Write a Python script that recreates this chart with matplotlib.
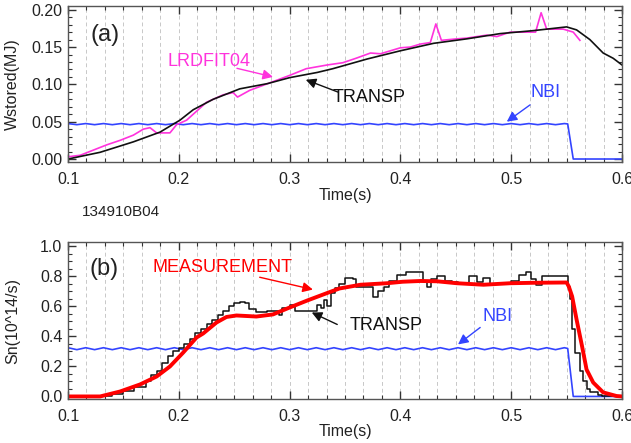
import numpy as np
import matplotlib
matplotlib.use("Agg")
import matplotlib.pyplot as plt
from matplotlib.ticker import MultipleLocator, FormatStrFormatter

plt.rcParams["font.family"] = ["Liberation Sans", "DejaVu Sans"]

# ---- panel (a): stored energy ----
transp_w_t = [0.100, 0.129, 0.159, 0.183, 0.201, 0.213, 0.231, 0.255, 0.280, 0.300,
              0.325, 0.339, 0.370, 0.400, 0.430, 0.460, 0.490, 0.520, 0.550, 0.559,
              0.571, 0.583, 0.592, 0.600]
transp_w = [0.000, 0.009, 0.023, 0.036, 0.052, 0.066, 0.080, 0.094, 0.101, 0.109,
            0.116, 0.121, 0.134, 0.145, 0.155, 0.161, 0.168, 0.172, 0.177, 0.173,
            0.160, 0.142, 0.135, 0.126]

lrdfit_t = [0.100, 0.111, 0.123, 0.135, 0.147, 0.159, 0.168, 0.174, 0.180, 0.192,
            0.198, 0.207, 0.216, 0.225, 0.240, 0.249, 0.253, 0.264, 0.282, 0.300,
            0.315, 0.334, 0.348, 0.360, 0.373, 0.382, 0.400, 0.409, 0.418, 0.427,
            0.432, 0.437, 0.451, 0.460, 0.478, 0.487, 0.499, 0.514, 0.522, 0.527,
            0.532, 0.547, 0.556, 0.562]
lrdfit_w = [0.003, 0.005, 0.012, 0.019, 0.025, 0.032, 0.040, 0.042, 0.035, 0.035,
            0.046, 0.052, 0.064, 0.076, 0.086, 0.089, 0.083, 0.092, 0.102, 0.112,
            0.121, 0.126, 0.129, 0.135, 0.142, 0.141, 0.149, 0.150, 0.154, 0.156,
            0.181, 0.159, 0.161, 0.162, 0.166, 0.164, 0.170, 0.170, 0.170, 0.196,
            0.174, 0.174, 0.170, 0.159]

nbi_t = [0.100, 0.108, 0.116, 0.124, 0.132, 0.140, 0.148, 0.156, 0.164, 0.172,
         0.180, 0.188, 0.196, 0.204, 0.212, 0.220, 0.228, 0.236, 0.244, 0.252,
         0.260, 0.268, 0.276, 0.284, 0.292, 0.300, 0.308, 0.316, 0.324, 0.332,
         0.340, 0.348, 0.356, 0.364, 0.372, 0.380, 0.388, 0.396, 0.404, 0.412,
         0.420, 0.428, 0.436, 0.444, 0.452, 0.460, 0.468, 0.476, 0.484, 0.492,
         0.500, 0.508, 0.516, 0.524, 0.532, 0.540, 0.548, 0.551, 0.556, 0.600]
nbi_w = [0.0475, 0.0460, 0.0475, 0.0460, 0.0475, 0.0460, 0.0475, 0.0460, 0.0475, 0.0460,
         0.0475, 0.0460, 0.0475, 0.0460, 0.0475, 0.0460, 0.0475, 0.0460, 0.0475, 0.0460,
         0.0475, 0.0460, 0.0475, 0.0460, 0.0475, 0.0460, 0.0475, 0.0460, 0.0475, 0.0460,
         0.0475, 0.0460, 0.0475, 0.0460, 0.0475, 0.0460, 0.0475, 0.0460, 0.0475, 0.0460,
         0.0475, 0.0460, 0.0475, 0.0460, 0.0475, 0.0460, 0.0475, 0.0460, 0.0475, 0.0460,
         0.0475, 0.0460, 0.0475, 0.0460, 0.0475, 0.0460, 0.0475, 0.0470, 0.0000, 0.0000]

# ---- panel (b): neutron rate ----
meas_t = [0.100, 0.129, 0.147, 0.165, 0.180, 0.192, 0.204, 0.216, 0.222, 0.234,
          0.243, 0.252, 0.270, 0.285, 0.300, 0.316, 0.334, 0.345, 0.364, 0.388,
          0.402, 0.418, 0.433, 0.451, 0.475, 0.499, 0.520, 0.550, 0.552, 0.555,
          0.559, 0.564, 0.568, 0.574, 0.583, 0.595, 0.600]
meas_sn = [0.000, 0.000, 0.033, 0.080, 0.133, 0.200, 0.293, 0.393, 0.420, 0.493,
           0.530, 0.540, 0.533, 0.547, 0.593, 0.640, 0.690, 0.720, 0.745, 0.755,
           0.765, 0.770, 0.768, 0.755, 0.745, 0.755, 0.758, 0.760, 0.733, 0.667,
           0.513, 0.333, 0.180, 0.093, 0.027, 0.003, 0.000]

transp_sn_t = [0.100, 0.130, 0.140, 0.150, 0.160, 0.170, 0.175, 0.180, 0.185, 0.190,
               0.195, 0.200, 0.205, 0.210, 0.215, 0.220, 0.225, 0.230, 0.235, 0.240,
               0.245, 0.250, 0.255, 0.260, 0.263, 0.270, 0.280, 0.290, 0.293, 0.300,
               0.305, 0.325, 0.328, 0.331, 0.334, 0.337, 0.341, 0.345, 0.350, 0.357,
               0.360, 0.375, 0.380, 0.385, 0.390, 0.397, 0.405, 0.420, 0.424, 0.428,
               0.433, 0.440, 0.447, 0.452, 0.462, 0.469, 0.475, 0.481, 0.500, 0.507,
               0.513, 0.518, 0.522, 0.528, 0.551, 0.553, 0.555, 0.558, 0.562, 0.565,
               0.568, 0.571, 0.578, 0.582, 0.600]
transp_sn = [0.000, 0.000, 0.015, 0.035, 0.060, 0.100, 0.140, 0.170, 0.220, 0.270,
             0.300, 0.320, 0.350, 0.380, 0.420, 0.450, 0.480, 0.510, 0.540, 0.570,
             0.600, 0.620, 0.630, 0.620, 0.580, 0.565, 0.570, 0.540, 0.590, 0.610,
             0.570, 0.610, 0.590, 0.640, 0.600, 0.690, 0.720, 0.750, 0.790, 0.780,
             0.730, 0.660, 0.700, 0.730, 0.770, 0.810, 0.830, 0.770, 0.730, 0.780,
             0.800, 0.770, 0.760, 0.750, 0.800, 0.760, 0.790, 0.750, 0.770, 0.810,
             0.830, 0.780, 0.740, 0.800, 0.730, 0.650, 0.450, 0.290, 0.170, 0.100,
             0.050, 0.030, 0.010, 0.000, 0.000]

nbi_sn = [0.325, 0.312, 0.325, 0.312, 0.325, 0.312, 0.325, 0.312, 0.325, 0.312,
          0.325, 0.312, 0.325, 0.312, 0.325, 0.312, 0.325, 0.312, 0.325, 0.312,
          0.325, 0.312, 0.325, 0.312, 0.325, 0.312, 0.325, 0.312, 0.325, 0.312,
          0.325, 0.312, 0.325, 0.312, 0.325, 0.312, 0.325, 0.312, 0.325, 0.312,
          0.325, 0.312, 0.325, 0.312, 0.325, 0.312, 0.325, 0.312, 0.325, 0.312,
          0.325, 0.312, 0.325, 0.312, 0.325, 0.312, 0.325, 0.320, 0.000, 0.000]

BLACK = "#111111"
MAGENTA = "#ff33dd"
BLUE = "#3344ff"
RED = "#ff0000"
FRAME = "#555555"
ARROW = dict(shrinkA=0, shrinkB=0, mutation_scale=15, lw=1.0, arrowstyle="-|>")


def style_axis(ax, ymajor, yminor, yfmt, ylim):
    ax.set_xlim(0.1, 0.6)
    ax.set_ylim(*ylim)
    ax.xaxis.set_major_locator(MultipleLocator(0.1))
    ax.xaxis.set_minor_locator(MultipleLocator(0.1 / 6))
    ax.xaxis.set_major_formatter(FormatStrFormatter("%.1f"))
    ax.yaxis.set_major_locator(MultipleLocator(ymajor))
    ax.yaxis.set_minor_locator(MultipleLocator(yminor))
    ax.yaxis.set_major_formatter(FormatStrFormatter(yfmt))
    ax.tick_params(which="both", direction="in", top=True, right=True,
                   colors="#333333", labelcolor="#222222", labelsize=11.5)
    ax.tick_params(which="major", length=6, width=1.0)
    ax.tick_params(which="minor", length=3, width=0.8)
    ax.tick_params(axis="x", pad=7)
    ax.tick_params(axis="y", pad=4)
    for sp in ax.spines.values():
        sp.set_color(FRAME)
        sp.set_linewidth(1.0)
    ax.grid(axis="x", which="both", color="#c8c8c8", linestyle=(0, (4, 3)), linewidth=0.7)
    ax.set_axisbelow(True)


def arrow(ax, head, tail, color):
    ax.annotate("", xy=head, xytext=tail, arrowprops=dict(color=color, **ARROW))


fig = plt.figure(figsize=(6.31, 4.43), dpi=100)
ax1 = fig.add_axes([68 / 631, 1 - 162 / 443, 554 / 631, 156 / 443])
ax2 = fig.add_axes([68 / 631, 1 - 399 / 443, 554 / 631, 157 / 443])

# panel (a)
style_axis(ax1, 0.05, 0.01, "%.2f", (-0.004, 0.205))
ax1.plot(nbi_t, nbi_w, color=BLUE, lw=1.2)
ax1.plot(lrdfit_t, lrdfit_w, color=MAGENTA, lw=1.2)
ax1.plot(transp_w_t, transp_w, color=BLACK, lw=1.2)
ax1.text(0.120, 0.166, "(a)", fontsize=17, va="center", color="#222222")
ax1.text(0.190, 0.131, "LRDFIT04", fontsize=13, va="center", color=MAGENTA)
arrow(ax1, (0.285, 0.110), (0.2525, 0.1215), MAGENTA)
ax1.text(0.339, 0.082, "TRANSP", fontsize=13, va="center", color=BLACK)
arrow(ax1, (0.3146, 0.1062), (0.344, 0.0895), BLACK)
ax1.text(0.517, 0.0886, "NBI", fontsize=13, va="center", color=BLUE)
arrow(ax1, (0.496, 0.050), (0.517, 0.0725), BLUE)
ax1.set_xlabel("Time(s)", fontsize=11.5, color="#222222")
ax1.xaxis.set_label_coords(0.5, -0.165)
ax1.set_ylabel("Wstored(MJ)", fontsize=11.5, color="#222222")
ax1.yaxis.set_label_coords(-0.086, 0.5)

fig.text(82 / 631, 1 - 212 / 443, "134910B04", fontsize=11, va="center", color="#222222")

# panel (b)
style_axis(ax2, 0.2, 0.05, "%.1f", (-0.017, 1.03))
ax2.plot(nbi_t, nbi_sn, color=BLUE, lw=1.2)
ax2.step(transp_sn_t, transp_sn, where="post", color=BLACK, lw=1.1)
ax2.plot(meas_t, meas_sn, color=RED, lw=2.8)
ax2.text(0.119, 0.847, "(b)", fontsize=17, va="center", color="#222222")
ax2.text(0.176, 0.86, "MEASUREMENT", fontsize=13, va="center", color=RED)
arrow(ax2, (0.321, 0.713), (0.273, 0.795), RED)
ax2.text(0.3545, 0.473, "TRANSP", fontsize=13, va="center", color=BLACK)
arrow(ax2, (0.320, 0.56), (0.343, 0.48), BLACK)
ax2.text(0.474, 0.533, "NBI", fontsize=13, va="center", color=BLUE)
arrow(ax2, (0.452, 0.347), (0.472, 0.46), BLUE)
ax2.set_xlabel("Time(s)", fontsize=11.5, color="#222222")
ax2.xaxis.set_label_coords(0.5, -0.16)
ax2.set_ylabel("Sn(10^14/s)", fontsize=11.5, color="#222222")
ax2.yaxis.set_label_coords(-0.086, 0.5)

fig.savefig("out.png", dpi=100)
